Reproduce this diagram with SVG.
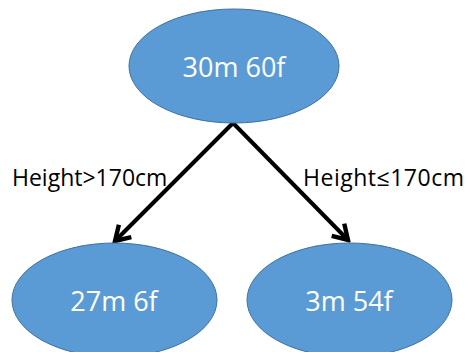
<svg xmlns="http://www.w3.org/2000/svg" width="469" height="352" viewBox="0 0 469 352">
<defs>
<style>
.node ellipse{fill:#5B9BD5;stroke:#41719C;stroke-width:1}
.node text{font-family:"Open Sans","Liberation Sans",sans-serif;font-size:27px;fill:#FFFFFF;text-anchor:middle}
.edge{stroke:#000;stroke-width:4;fill:none;marker-end:url(#arr)}
.lbl{font-family:"Open Sans","Liberation Sans",sans-serif;font-size:23px;fill:#000}
</style>
<marker id="arr" viewBox="0 0 10 10" refX="8.5" refY="5" markerWidth="5.5" markerHeight="5.5" orient="auto" markerUnits="strokeWidth">
<polyline points="2,1 8.5,5 2,9" fill="none" stroke="#000" stroke-width="2"/>
</marker>
</defs>
<g id="connectors">
<line class="edge" x1="233" y1="123" x2="115" y2="241"/>
<line class="edge" x1="233" y1="123" x2="348" y2="240"/>
<text class="lbl" x="12" y="186">Height&gt;170cm</text>
<text class="lbl" x="303" y="186" textLength="161" lengthAdjust="spacing">Height≤170cm</text>
</g>
<g id="root" class="node">
<ellipse cx="234" cy="66" rx="105" ry="57"/>
<text x="234" y="77">30m 60f</text>
</g>
<g id="left" class="node">
<ellipse cx="114.5" cy="300" rx="102.5" ry="57"/>
<text x="114" y="311">27m 6f</text>
</g>
<g id="right" class="node">
<ellipse cx="349.5" cy="300" rx="102.5" ry="57"/>
<text x="349" y="311">3m 54f</text>
</g>
</svg>
